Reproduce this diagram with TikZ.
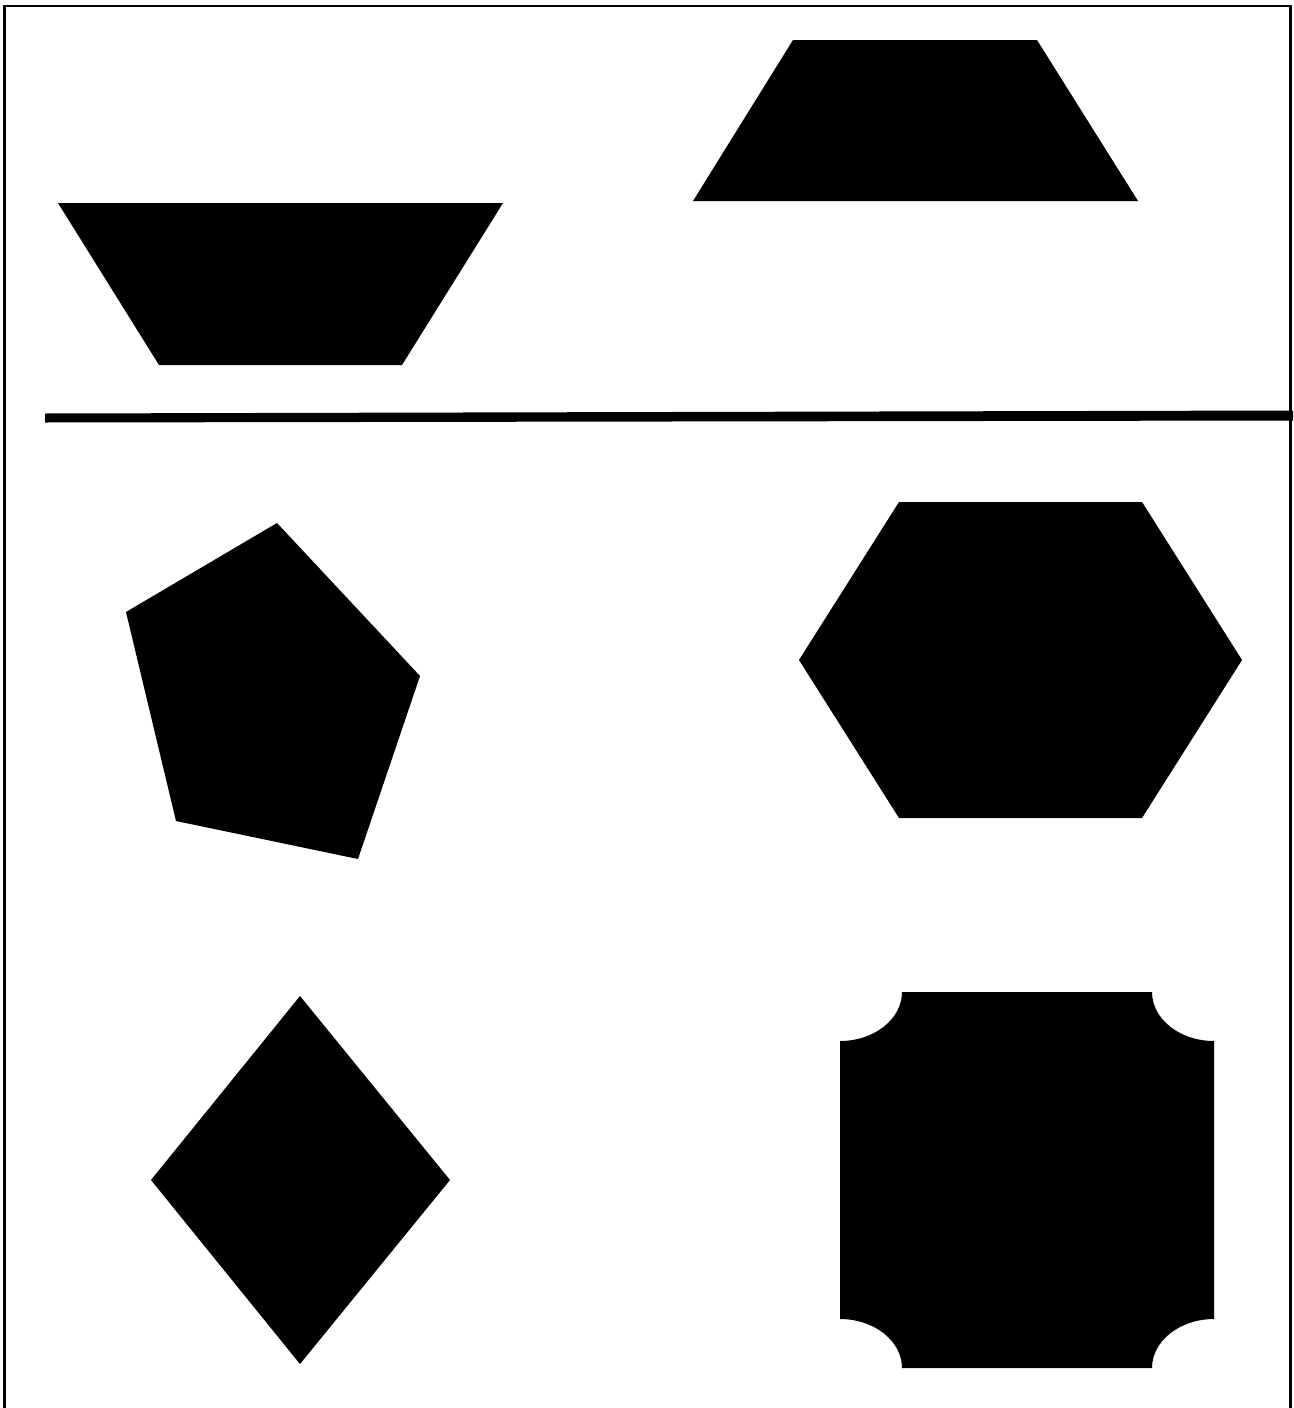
\documentclass[tikz,border=0pt]{standalone}
\begin{document}
\begin{tikzpicture}[x=1pt,y=-1pt,
  shapefill/.style={fill=black,draw=none},
  framestyle/.style={draw=black,line width=2.6pt}]
\useasboundingbox (0,0) rectangle (1293,1408);
\fill[white] (0,0) rectangle (1293,1408);
% frame
\draw[framestyle] (4.3,1410) -- (4.3,6) -- (1290.7,6) -- (1290.7,1410);
% top-right trapezoid
\fill[shapefill] (793,40) -- (1037,40) -- (1138,201) -- (693,201) -- cycle;
% left inverted trapezoid
\fill[shapefill] (58,203) -- (503,203) -- (402,365) -- (159,365) -- cycle;
% horizontal line
\fill[shapefill] (45,413.5) -- (1293,410.5) -- (1293,420.5) -- (45,422.5) -- cycle;
% pentagon
\fill[shapefill] (277,523) -- (420,676) -- (358,859) -- (176,821) -- (126,612) -- cycle;
% hexagon
\fill[shapefill] (899,502) -- (1142,502) -- (1242,660) -- (1142,818) -- (899,818) -- (799,660) -- cycle;
% diamond
\fill[shapefill] (300,996) -- (450,1180) -- (300,1364) -- (151,1180) -- cycle;
% square with concave corners
\fill[shapefill] (902,992) -- (1152,992)
  arc[start angle=180,end angle=90,x radius=62,y radius=49]
  -- (1214,1319)
  arc[start angle=270,end angle=180,x radius=62,y radius=49]
  -- (902,1368)
  arc[start angle=360,end angle=270,x radius=62,y radius=49]
  -- (840,1041)
  arc[start angle=90,end angle=0,x radius=62,y radius=49]
  -- cycle;
\end{tikzpicture}
\end{document}
